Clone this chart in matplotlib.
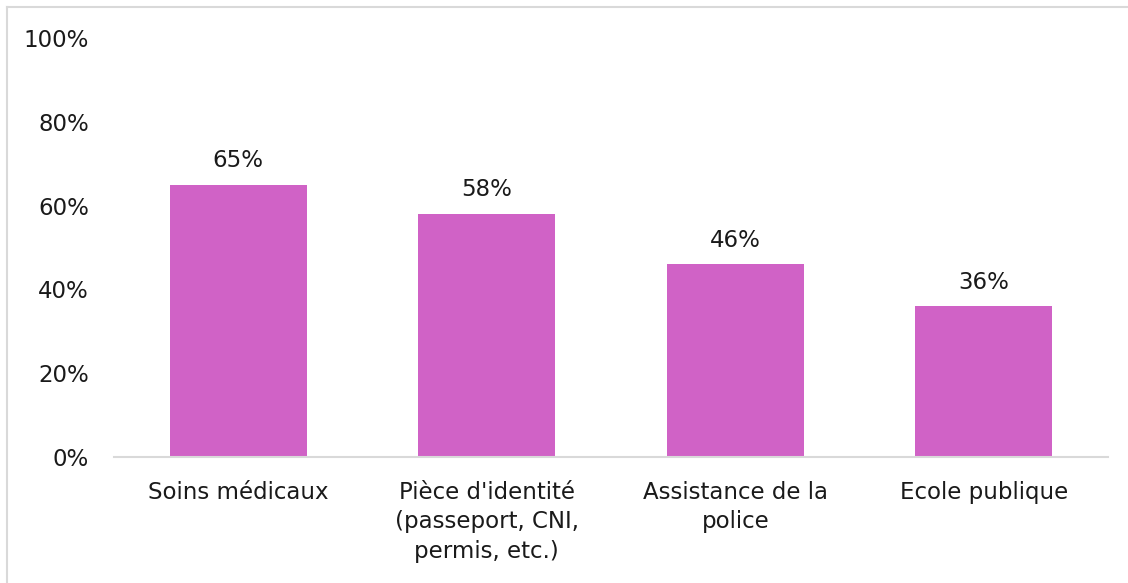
import matplotlib
matplotlib.use("Agg")
import matplotlib.pyplot as plt
from matplotlib.lines import Line2D
from matplotlib.ticker import PercentFormatter

categories = ["Soins médicaux",
              "Pièce d'identité\n(passeport, CNI,\npermis, etc.)",
              "Assistance de la\npolice",
              "Ecole publique"]
values = [65, 58, 46, 36]
yticks = [0, 20, 40, 60, 80, 100]

bar_color = "#D062C6"
grey = "#D9D9D9"

plt.rcParams["font.family"] = ["DejaVu Sans"]

fig = plt.figure(figsize=(11.28, 5.83), dpi=100)
ax = fig.add_axes([114 / 1128, 1 - 457 / 583, 994 / 1128, 419 / 583])

x = range(len(categories))
bars = ax.bar(x, values, width=0.55, color=bar_color, zorder=2)

for rect, v in zip(bars, values):
    ax.annotate(f"{v}%", xy=(rect.get_x() + rect.get_width() / 2, v),
                xytext=(0, 9), textcoords="offset points",
                ha="center", va="bottom", fontsize=16.5, color="#1a1a1a")

ax.set_xlim(-0.5, len(categories) - 0.5)
ax.set_ylim(0, 100)
ax.set_yticks(yticks)
ax.yaxis.set_major_formatter(PercentFormatter(decimals=0))
ax.set_xticks(list(x))
ax.set_xticklabels(categories, fontsize=16.5, linespacing=1.38, va="top")
ax.tick_params(axis="y", length=0, pad=18, labelsize=16.5, labelcolor="#1a1a1a")
ax.tick_params(axis="x", length=0, pad=17, labelcolor="#1a1a1a")

for side in ["top", "right", "left"]:
    ax.spines[side].set_visible(False)
ax.spines["bottom"].set_color(grey)
ax.spines["bottom"].set_linewidth(1.5)

# chart frame (only left and top edges visible in the crop)
fig.add_artist(Line2D([7 / 1128, 7 / 1128], [0, 1 - 7 / 583],
                      transform=fig.transFigure, color=grey, lw=1.5))
fig.add_artist(Line2D([7 / 1128, 1], [1 - 7 / 583, 1 - 7 / 583],
                      transform=fig.transFigure, color=grey, lw=1.5))

fig.savefig("out.png", dpi=100)
